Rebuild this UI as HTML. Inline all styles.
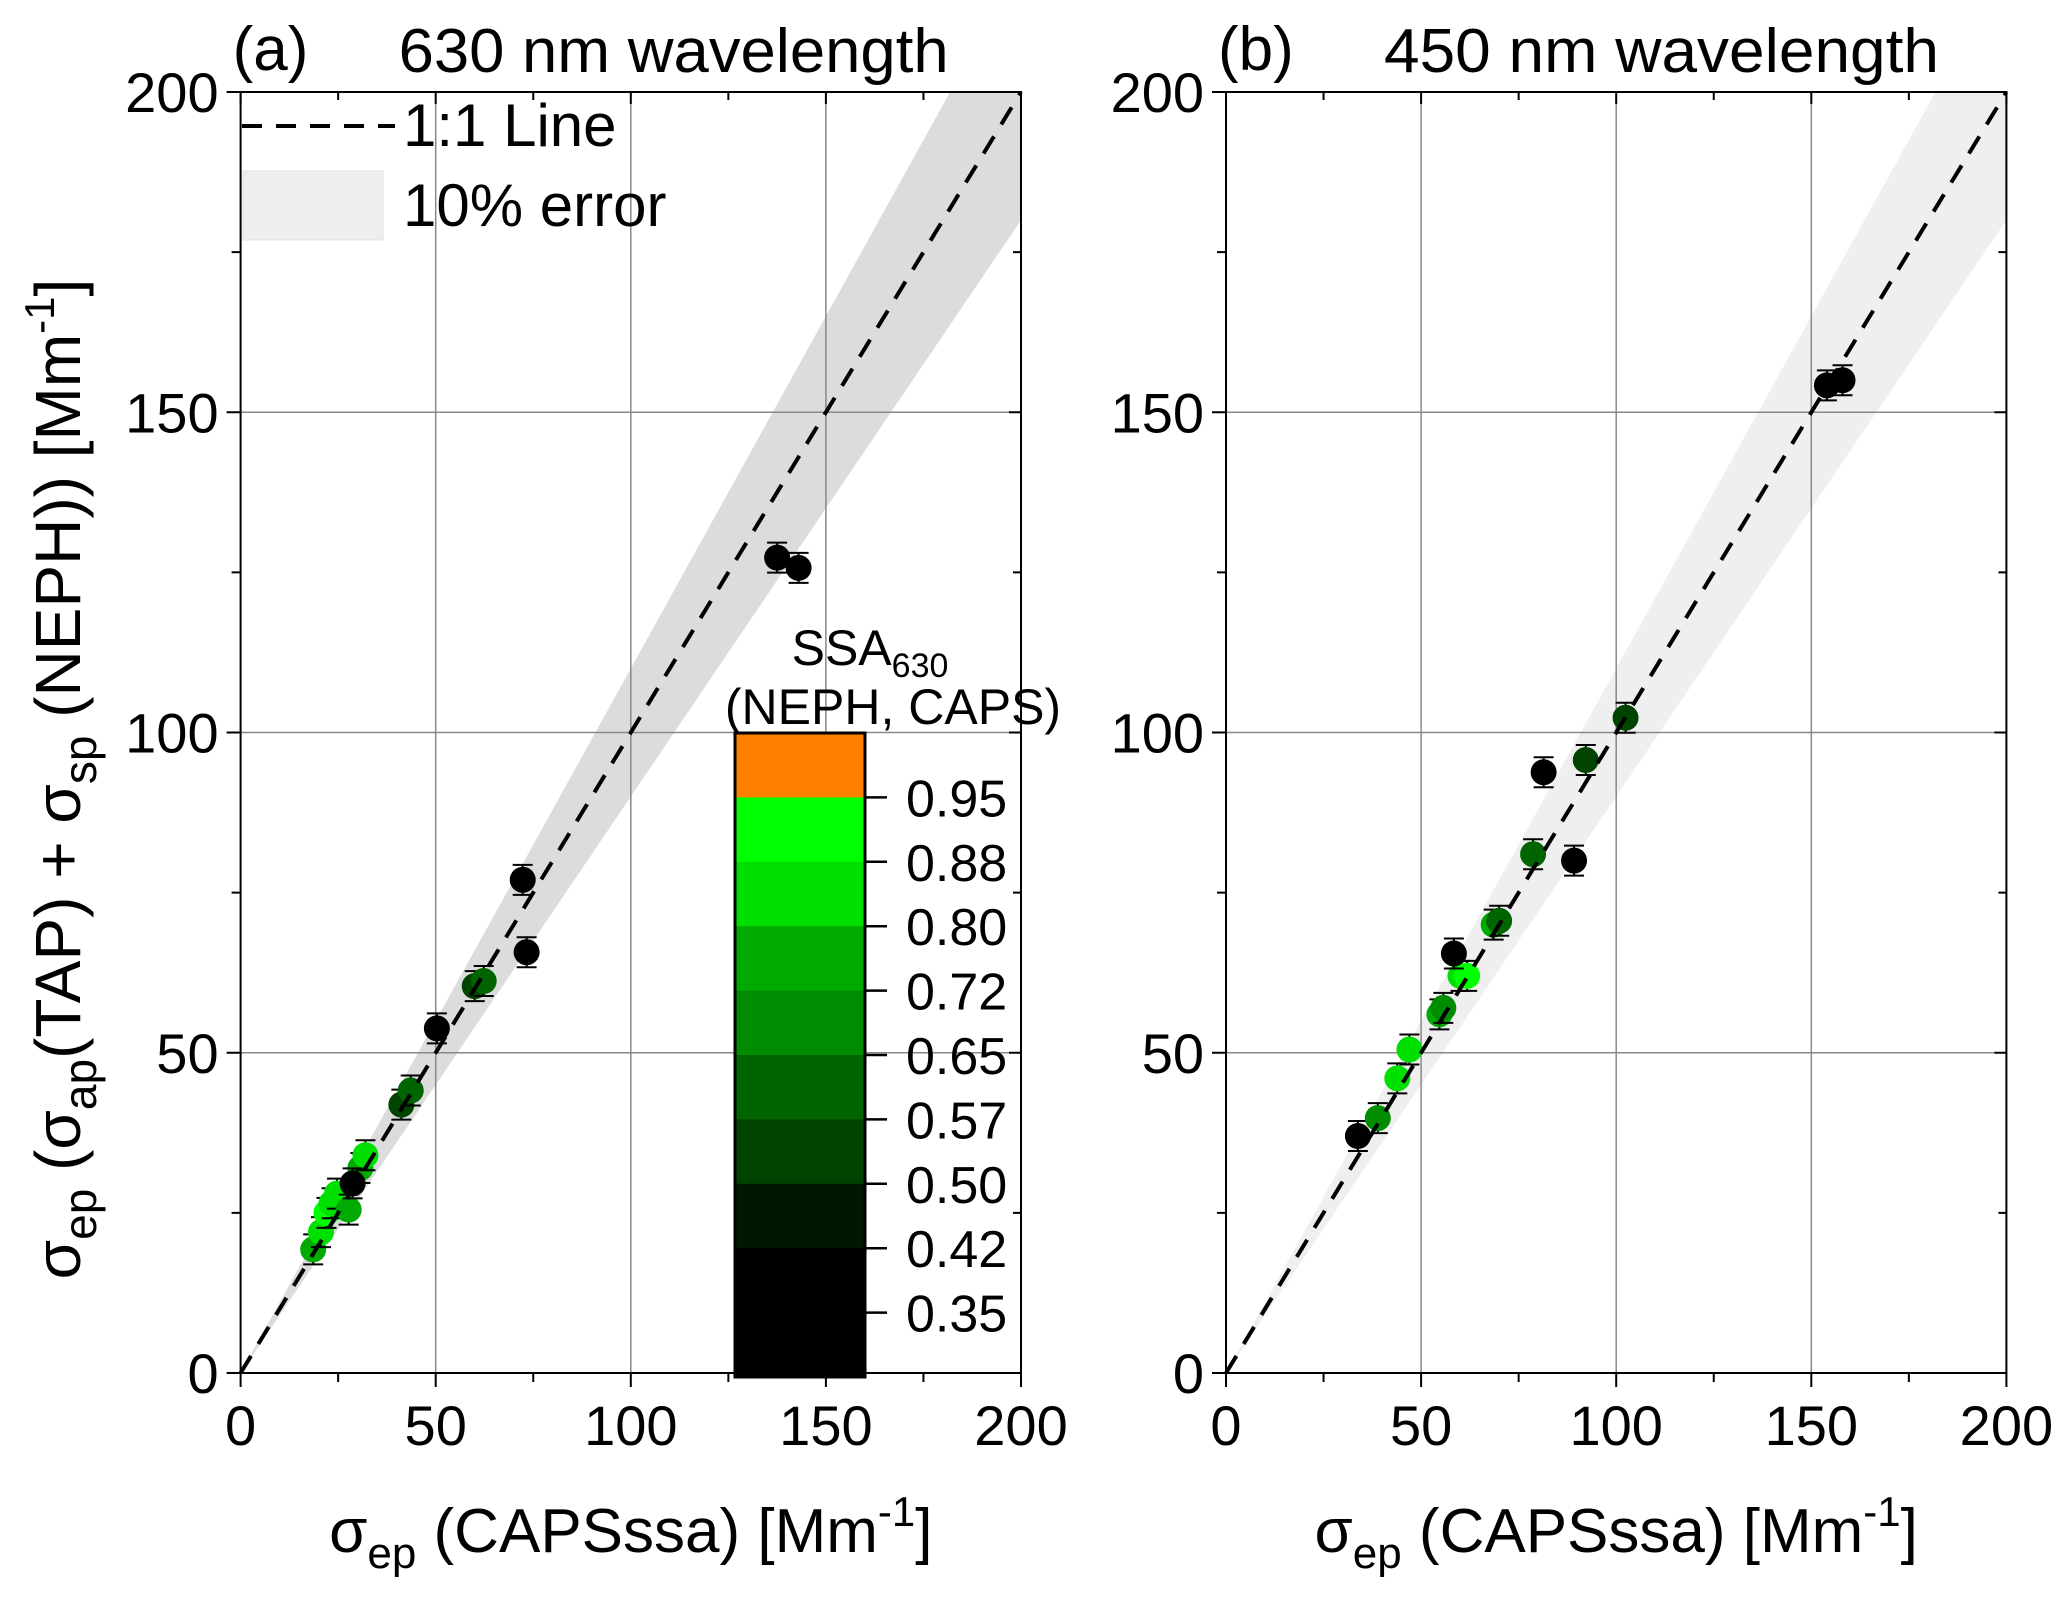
<!DOCTYPE html>
<html><head><meta charset="utf-8"><style>
html,body{margin:0;padding:0;background:#fff;}
svg{display:block;font-family:"Liberation Sans",sans-serif;}
</style></head><body>
<svg id="chart" width="2067" height="1605" viewBox="0 0 2067 1605" xmlns="http://www.w3.org/2000/svg"></svg>
<script>
const ticks = [0, 50, 100, 150, 200];
const minorTicks = [25, 75, 125, 175];
const cbLabels = ["0.95","0.88","0.80","0.72","0.65","0.57","0.50","0.42","0.35"];
const cbColors = ["#ff8000","#00ff00","#00e000","#00aa00","#008c00","#006400","#004400","#001800","#000000","#000000"];
const cbEdges = [0.95,0.88,0.80,0.72,0.65,0.57,0.50,0.42];
// panel a (630 nm)
const aX = [18.6,20.6,22,23.3,24.7,27.7,30.7,32,28.7,41.2,43.6,50.3,60,62.3,72.3,73.3,137.5,143];
const aY = [19.3,22,25,26.5,28,25.5,32,34,29.6,41.9,44.1,53.8,60.4,61.2,77,65.7,127.3,125.7];
const aS = [0.78,0.80,0.90,0.85,0.80,0.75,0.78,0.82,0.30,0.55,0.58,0.30,0.55,0.58,0.30,0.30,0.30,0.30];
// panel b (450 nm)
const bX = [33.8,38.9,43.9,47,54.7,55.7,60.1,61.8,58.4,68.6,70,78.7,81.4,89.2,92.2,102.4,154,158];
const bY = [37,39.8,46,50.5,56,57,62,62,65.5,70,70.6,81,93.8,80,95.7,102.3,154.2,155];
const bS = [0.30,0.70,0.80,0.82,0.74,0.68,0.85,0.92,0.30,0.78,0.62,0.58,0.30,0.30,0.52,0.50,0.30,0.30];

const svg = document.getElementById('chart');
const NS = 'http://www.w3.org/2000/svg';
function mk(tag, attrs, parent){const e=document.createElementNS(NS,tag);for(const k in attrs)e.setAttribute(k,attrs[k]);(parent||svg).appendChild(e);return e;}
const Y0=1373, YS=(1373-92)/200;
function yS(v){return Y0 - v*YS;}
function colorFor(s){for(let i=0;i<cbEdges.length;i++){if(s>=cbEdges[i])return cbColors[i];}return "#000000";}

function panel(x0, xs, ys, ss, bandFill, label, title, key){
  const XS=(1021-240.6)/200;
  const xS=v=>x0+v*XS;
  const g=mk('g',{});
  
  
  const clip=mk('clipPath',{id:'clip'+key},g);
  mk('rect',{x:xS(0),y:yS(200),width:xS(200)-xS(0),height:yS(0)-yS(200)},clip);
  const band=mk('polygon',{points:`${xS(0)},${yS(0)} ${xS(200)},${yS(220)} ${xS(200)},${yS(180)}`,fill:bandFill,'clip-path':`url(#clip${key})`},g);
  
  
  ticks.slice(1,4).forEach(t=>{
    mk('line',{x1:xS(t),x2:xS(t),y1:yS(0),y2:yS(200),stroke:'#888','stroke-width':1.5},g);
    mk('line',{x1:xS(0),x2:xS(200),y1:yS(t),y2:yS(t),stroke:'#888','stroke-width':1.5},g);
  });
  for(let i=0;i<xs.length;i++){
    const cx=xS(xs[i]), cy=yS(ys[i]);
    const eb=mk('path',{d:`M${cx},${cy-15}V${cy+15} M${cx-10},${cy-15}H${cx+10} M${cx-10},${cy+15}H${cx+10}`,stroke:'#000','stroke-width':2,fill:'none'},g);
    
    
    const c=mk('circle',{cx:cx,cy:cy,r:13,fill:colorFor(ss[i])},g);
    
    
  }
  const l=mk('line',{x1:xS(0),y1:yS(0),x2:xS(200),y2:yS(200),stroke:'#000','stroke-width':4,'stroke-dasharray':'20,14'},g);
  
  
  mk('rect',{x:xS(0),y:yS(200),width:xS(200)-xS(0),height:yS(0)-yS(200),fill:'none',stroke:'#000','stroke-width':2},g);
  ticks.forEach(t=>{
    mk('line',{x1:xS(t),x2:xS(t),y1:yS(0),y2:yS(0)+14,stroke:'#000','stroke-width':2},g);
    mk('line',{x1:xS(t),x2:xS(t),y1:yS(200),y2:yS(200)+12,stroke:'#000','stroke-width':2},g);
    mk('line',{x1:xS(0)-14,x2:xS(0),y1:yS(t),y2:yS(t),stroke:'#000','stroke-width':2},g);
    mk('line',{x1:xS(200)-12,x2:xS(200),y1:yS(t),y2:yS(t),stroke:'#000','stroke-width':2},g);
    const tx=mk('text',{x:xS(t),y:yS(0)+72,'font-size':56,'text-anchor':'middle'},g);tx.textContent=t;
    
    
    const ty=mk('text',{x:xS(0)-22,y:yS(t)+20,'font-size':56,'text-anchor':'end'},g);ty.textContent=t;
    
    
  });
  minorTicks.forEach(t=>{
    mk('line',{x1:xS(t),x2:xS(t),y1:yS(0),y2:yS(0)+9,stroke:'#000','stroke-width':2},g);
    mk('line',{x1:xS(t),x2:xS(t),y1:yS(200),y2:yS(200)+8,stroke:'#000','stroke-width':2},g);
    mk('line',{x1:xS(0)-9,x2:xS(0),y1:yS(t),y2:yS(t),stroke:'#000','stroke-width':2},g);
    mk('line',{x1:xS(200)-8,x2:xS(200),y1:yS(t),y2:yS(t),stroke:'#000','stroke-width':2},g);
  });
  const pl=mk('text',{x:xS(0)-8,y:70,'font-size':62},g);pl.textContent=label;
  
  
  const tt=mk('text',{x:xS(0)+158,y:72,'font-size':62,textLength:(key==='a'?550:555),lengthAdjust:'spacingAndGlyphs'},g);tt.textContent=title;
  
  
  const xl=mk('text',{x:xS(100),y:1552,'font-size':62,'text-anchor':'middle'},g);
  xl.innerHTML='σ<tspan font-size="44" dy="16">ep</tspan><tspan dy="-16"> (CAPSssa) [Mm</tspan><tspan font-size="42" dy="-26">-1</tspan><tspan dy="26">]</tspan>';
  
  
}
panel(240.6,aX,aY,aS,'#dcdcdc','(a)','630 nm wavelength','a');
panel(1226,bX,bY,bS,'#efefef','(b)','450 nm wavelength','b');

const yl=mk('text',{x:0,y:0,'font-size':64,'text-anchor':'middle',transform:'translate(80,779) rotate(-90)'});
yl.innerHTML='σ<tspan font-size="46" dy="16">ep</tspan><tspan dy="-16"> (σ</tspan><tspan font-size="46" dy="16">ap</tspan><tspan dy="-16">(TAP) + σ</tspan><tspan font-size="46" dy="16">sp</tspan><tspan dy="-16"> (NEPH)) [Mm</tspan><tspan font-size="42" dy="-26">-1</tspan><tspan dy="26">]</tspan>';



const lg=mk('g',{});


mk('line',{x1:242,y1:126,x2:395,y2:126,stroke:'#000','stroke-width':4,'stroke-dasharray':'20,14'},lg);
const lt1=mk('text',{x:403,y:146,'font-size':60},lg);lt1.textContent='1:1 Line';


mk('rect',{x:243,y:171,width:140,height:69,fill:'#eeeeee',stroke:'#e0e0e0'},lg);
const lt2=mk('text',{x:403,y:226,'font-size':60},lg);lt2.textContent='10% error';



const cb=mk('g',{});


const cbTop=733, cbBot=1377, cbL=735, cbR=865, bh=(cbBot-cbTop)/10;
cbColors.forEach((c,i)=>{
  const r=mk('rect',{x:cbL,y:cbTop+i*bh,width:cbR-cbL,height:bh+0.5,fill:c},cb);
  
  
});
mk('rect',{x:cbL,y:cbTop,width:cbR-cbL,height:cbBot-cbTop,fill:'none',stroke:'#000','stroke-width':3},cb);
cbLabels.forEach((s,i)=>{
  const y=cbTop+(i+1)*bh;
  mk('line',{x1:cbR,x2:cbR+22,y1:y,y2:y,stroke:'#000','stroke-width':2.5},cb);
  const t=mk('text',{x:906,y:y+19,'font-size':52},cb);t.textContent=s;
  
  
});
const ct1=mk('text',{x:870,y:665,'font-size':50,'text-anchor':'middle'},cb);
ct1.innerHTML='SSA<tspan font-size="34" dy="12">630</tspan>';


const ct2=mk('text',{x:893,y:724,'font-size':50,'text-anchor':'middle'},cb);
ct2.textContent='(NEPH, CAPS)';


</script>
</body></html>
